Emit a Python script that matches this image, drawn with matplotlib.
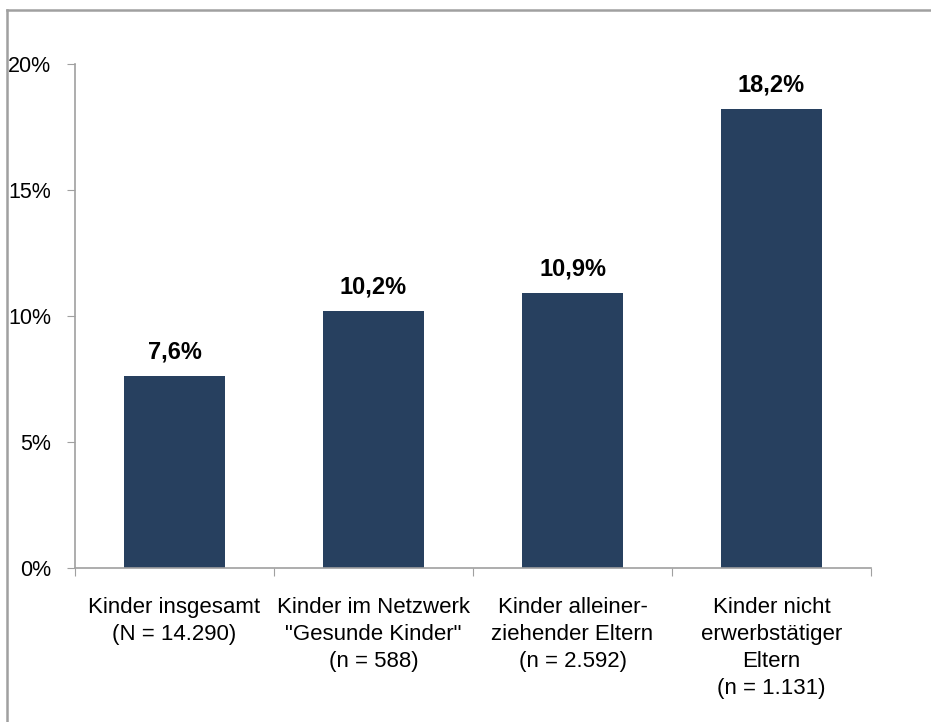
import matplotlib.pyplot as plt
from matplotlib.lines import Line2D

# Daten
categories = [
    'Kinder insgesamt\n(N = 14.290)',
    'Kinder im Netzwerk\n"Gesunde Kinder"\n(n = 588)',
    'Kinder alleiner-\nziehender Eltern\n(n = 2.592)',
    'Kinder nicht\nerwerbstätiger\nEltern\n(n = 1.131)',
]
values = [7.6, 10.2, 10.9, 18.2]
value_labels = ['7,6%', '10,2%', '10,9%', '18,2%']
yticks = [0, 5, 10, 15, 20]
ytick_labels = ['0%', '5%', '10%', '15%', '20%']

plt.rcParams['font.family'] = ['Liberation Sans', 'DejaVu Sans']

fig = plt.figure(figsize=(9.31, 7.22), dpi=100)
ax = fig.add_axes([0.0806, 0.2133, 0.855, 0.698])

bar_color = '#27405F'
axis_gray = '#A0A0A0'

x = range(len(values))
ax.bar(x, values, width=0.51, color=bar_color, zorder=2)

for i, (v, lab) in enumerate(zip(values, value_labels)):
    ax.annotate(lab, (i, v), xytext=(0, 9), textcoords='offset points',
                ha='center', va='bottom', fontsize=17, fontweight='bold')

ax.set_xlim(-0.5, len(values) - 0.5)
ax.set_ylim(0, 20)
ax.set_yticks(yticks)
ax.set_yticklabels(ytick_labels, fontsize=15.5)

# Kategorie-Ticks an den Grenzen
ax.set_xticks([i - 0.5 for i in range(len(values) + 1)])
ax.set_xticklabels([])
ax.set_xticks(list(x), minor=True)
ax.set_xticklabels(categories, minor=True, fontsize=16, linespacing=1.38)
ax.tick_params(axis='x', which='minor', length=0, pad=21)
ax.tick_params(axis='x', which='major', length=6, color=axis_gray, direction='out')
ax.tick_params(axis='y', length=6, color=axis_gray, direction='out', pad=11)

for side in ['top', 'right']:
    ax.spines[side].set_visible(False)
for side in ['left', 'bottom']:
    ax.spines[side].set_color(axis_gray)
    ax.spines[side].set_linewidth(1.2)

# Rahmen um das Diagramm
fig.add_artist(Line2D([7 / 931, 1.0], [1 - 10 / 722, 1 - 10 / 722],
                      transform=fig.transFigure, color=axis_gray, linewidth=1.8))
fig.add_artist(Line2D([7 / 931, 7 / 931], [0.0, 1 - 10 / 722],
                      transform=fig.transFigure, color=axis_gray, linewidth=1.8))

plt.savefig('out.png', dpi=100)
